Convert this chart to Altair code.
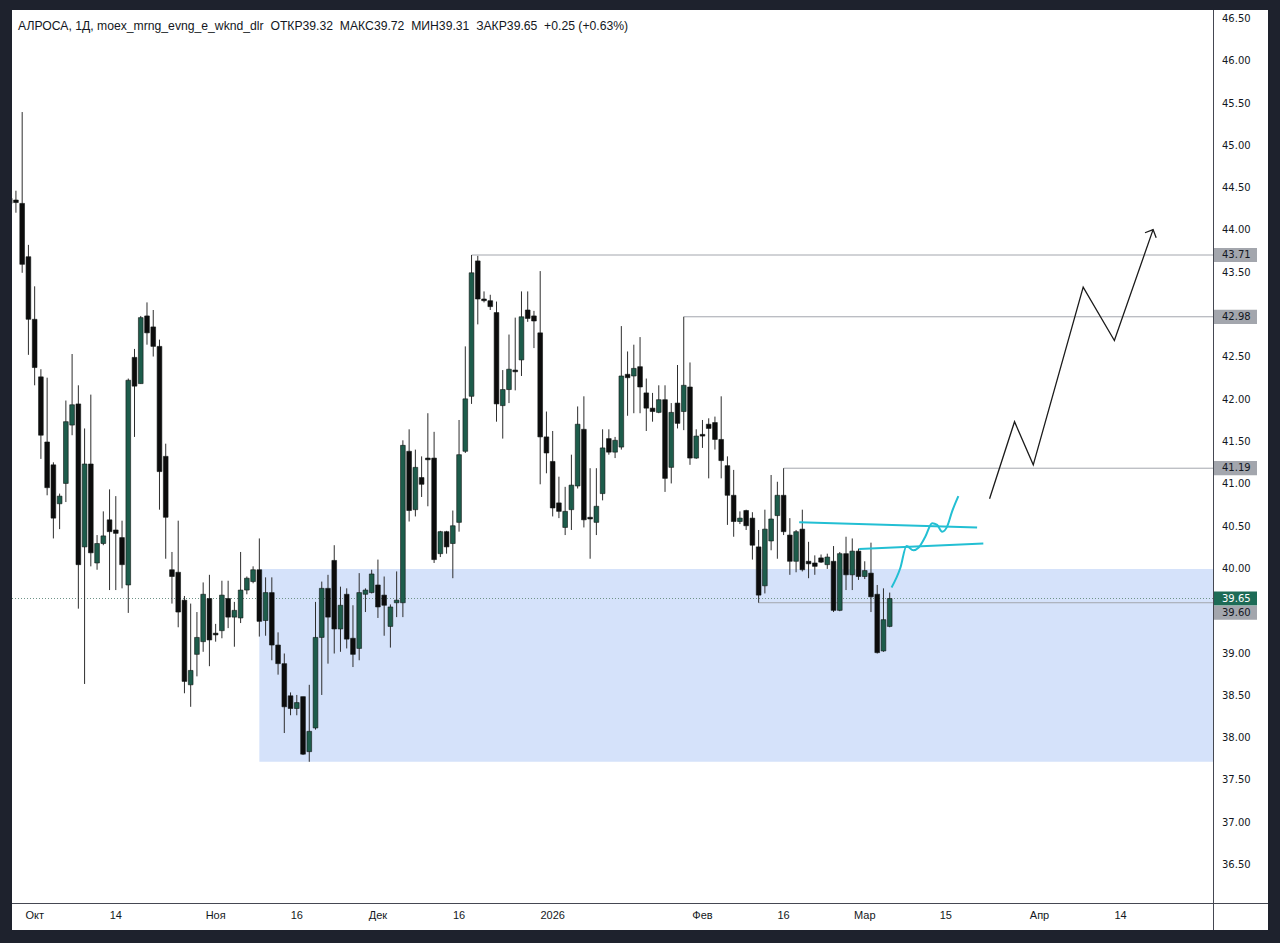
import altair as alt
import pandas as pd

# Daily candles, one per trading session (bar index 0..141)
OPEN = [44.38, 44.36, 44.32, 43.69, 42.95, 42.27, 41.50, 41.23, 40.77, 41.01,
        41.70, 41.95, 40.26, 41.24, 40.07, 40.30, 40.58, 40.46, 40.37, 39.81,
        42.50, 42.19, 42.99, 42.86, 42.63, 41.33, 39.99, 39.96, 39.63, 38.63,
        38.99, 39.14, 39.65, 39.24, 39.27, 39.65, 39.43, 39.42, 39.75, 39.85,
        39.99, 39.39, 39.72, 39.10, 38.88, 38.50, 38.35, 38.49, 37.84, 38.12,
        39.19, 39.77, 40.10, 39.29, 39.70, 39.18, 39.06, 39.70, 39.72, 39.81,
        39.69, 39.32, 39.60, 39.60, 41.39, 40.70, 41.08, 41.31, 41.31, 40.18,
        40.44, 40.30, 40.55, 41.39, 42.04, 43.64, 43.19, 43.17, 43.03, 41.93,
        42.12, 42.35, 42.47, 43.06, 42.99, 42.79, 41.56, 41.27, 40.78, 40.49,
        40.70, 40.98, 41.65, 40.61, 40.55, 40.89, 41.54, 41.38, 41.44, 42.30,
        42.28, 42.39, 42.08, 41.90, 41.85, 42.00, 41.20, 41.96, 41.86, 42.15,
        41.31, 41.59, 41.71, 41.73, 41.53, 41.22, 40.87, 40.56, 40.69, 40.60,
        40.26, 39.80, 40.33, 40.63, 40.87, 40.40, 40.09, 40.47, 40.09, 40.07,
        40.13, 40.05, 40.09, 39.51, 40.18, 39.93, 40.21, 39.91, 39.95, 39.70,
        39.03, 39.32]
HIGH = [44.45, 44.47, 45.40, 43.83, 43.34, 42.36, 42.26, 41.26, 40.89, 41.99,
        42.54, 42.17, 41.66, 42.06, 40.40, 40.68, 40.94, 40.86, 40.57, 42.25,
        42.60, 42.99, 43.15, 43.06, 42.71, 41.48, 40.20, 40.57, 39.68, 39.59,
        39.49, 39.84, 39.93, 39.35, 39.86, 39.86, 39.61, 40.20, 39.91, 40.03,
        40.36, 39.90, 39.90, 39.25, 39.00, 38.54, 38.51, 38.49, 38.63, 39.61,
        39.85, 39.93, 40.28, 39.79, 39.77, 39.57, 39.95, 39.77, 39.99, 40.11,
        39.91, 39.58, 39.97, 41.52, 41.65, 41.41, 41.33, 41.84, 41.62, 40.45,
        40.45, 40.69, 41.76, 42.63, 43.71, 43.70, 43.28, 43.24, 43.16, 42.35,
        42.77, 42.97, 43.28, 43.28, 43.05, 43.52, 41.86, 41.63, 41.09, 40.97,
        41.35, 41.92, 42.04, 41.19, 41.19, 41.65, 41.65, 41.56, 42.87, 42.57,
        42.65, 42.74, 42.25, 42.08, 42.17, 42.17, 41.96, 42.41, 42.98, 42.44,
        41.65, 41.76, 41.78, 41.80, 42.04, 41.33, 41.17, 40.68, 40.70, 40.67,
        40.46, 40.70, 41.11, 41.03, 41.19, 40.60, 40.46, 40.70, 40.32, 40.16,
        40.17, 40.18, 40.27, 40.20, 40.38, 40.36, 40.24, 40.09, 40.31, 39.81,
        39.77, 39.72]
LOW = [44.28, 44.21, 43.50, 42.53, 42.17, 41.30, 40.87, 40.36, 40.47, 40.79,
       41.58, 39.53, 38.64, 40.03, 39.99, 40.28, 39.75, 39.75, 39.77, 39.48,
       41.56, 42.19, 42.65, 42.51, 40.70, 40.12, 39.59, 39.31, 38.53, 38.37,
       38.73, 39.02, 38.85, 39.14, 39.18, 39.30, 39.08, 39.36, 39.70, 39.83,
       39.20, 39.21, 38.92, 38.75, 38.06, 38.27, 38.27, 37.80, 37.72, 38.10,
       38.51, 38.88, 39.00, 39.02, 39.06, 38.84, 38.92, 39.49, 39.71, 39.42,
       39.21, 39.07, 39.43, 39.43, 40.56, 40.62, 40.85, 40.74, 40.07, 40.14,
       40.18, 39.89, 40.44, 41.37, 41.95, 42.89, 43.15, 43.06, 41.74, 41.54,
       41.96, 42.11, 42.28, 42.92, 42.61, 41.00, 41.13, 40.62, 40.60, 40.40,
       40.46, 40.95, 40.49, 40.12, 40.40, 40.81, 41.35, 41.31, 41.41, 41.81,
       41.84, 41.84, 41.63, 41.74, 41.84, 40.91, 41.01, 41.66, 41.64, 41.23,
       41.30, 41.43, 41.07, 41.41, 41.07, 40.52, 40.38, 40.53, 40.46, 40.11,
       39.60, 39.71, 40.22, 40.12, 40.40, 39.93, 39.96, 39.97, 39.89, 39.93,
       40.07, 40.00, 39.49, 39.50, 39.75, 39.75, 39.87, 39.88, 39.49, 39.00,
       39.02, 39.31]
CLOSE = [44.32, 44.33, 43.60, 42.95, 42.38, 41.58, 40.96, 40.60, 40.86, 41.74,
         41.94, 40.05, 41.24, 40.19, 40.30, 40.39, 40.44, 40.42, 40.05, 42.23,
         42.16, 42.97, 42.79, 42.63, 41.15, 40.61, 39.91, 39.49, 38.67, 38.80,
         39.19, 39.70, 39.16, 39.22, 39.69, 39.43, 39.51, 39.75, 39.89, 39.99,
         39.38, 39.72, 39.10, 38.88, 38.37, 38.35, 38.42, 37.81, 38.08, 39.19,
         39.77, 39.43, 39.29, 39.57, 39.17, 38.99, 39.72, 39.75, 39.94, 39.55,
         39.57, 39.55, 39.63, 41.46, 40.69, 41.20, 41.00, 41.29, 40.11, 40.44,
         40.26, 40.51, 41.35, 42.01, 43.50, 43.19, 43.17, 43.10, 41.95, 42.12,
         42.36, 42.33, 42.98, 42.96, 42.93, 41.56, 41.37, 40.72, 40.68, 40.68,
         40.99, 41.71, 40.58, 40.59, 40.74, 41.43, 41.38, 41.52, 42.28, 42.26,
         42.37, 42.15, 41.90, 41.86, 42.00, 41.07, 41.85, 41.72, 42.17, 41.31,
         41.57, 41.57, 41.66, 41.53, 41.28, 40.87, 40.56, 40.60, 40.51, 40.28,
         39.69, 40.47, 40.59, 40.87, 40.44, 40.09, 40.44, 39.99, 40.06, 40.03,
         40.08, 40.14, 39.51, 40.18, 39.93, 40.21, 39.91, 39.98, 39.67, 39.01,
         39.40, 39.65]

# Time axis: bar index of each label and its text
TICK_POS = [4, 17, 33, 46, 59, 72, 87, 111, 124, 137, 150, 165, 178]
TICK_TEXT = ["Окт", "14", "Ноя", "16", "Дек", "16", "2026", "Фев", "16",
             "Мар", "15", "Апр", "14"]

# Price scale labels (43.00 and 39.50 are covered by level tags)
PRICE_TICKS = [36.5, 37.0, 37.5, 38.0, 38.5, 39.0, 40.0, 40.5, 41.0, 41.5,
               42.0, 42.5, 43.5, 44.0, 44.5, 45.0, 45.5, 46.0, 46.5]

# Horizontal levels: starting bar and price
LEVEL_START = [74, 108, 124, 120]
LEVEL_PRICE = [43.71, 42.98, 41.19, 39.60]
LAST_PRICE = 39.65

# Demand zone
ZONE_START, ZONE_LOW, ZONE_HIGH = 40, 37.72, 40.00

# Cyan drawings
CYAN_UPPER_X = [126.5, 155.0]
CYAN_UPPER_Y = [40.55, 40.49]
CYAN_LOWER_X = [136.1, 156.0]
CYAN_LOWER_Y = [40.235, 40.30]
CYAN_PATH_X = [141.3, 142.7, 143.7, 144.8, 145.6, 146.7, 147.8, 148.6, 149.4,
               150.2, 151.0, 152.0]
CYAN_PATH_Y = [39.78, 40.01, 40.27, 40.22, 40.25, 40.38, 40.54, 40.52, 40.44,
               40.50, 40.68, 40.86]

# Projected zig-zag path
ARROW_X = [157.0, 161.0, 164.0, 172.0, 177.0, 183.2]
ARROW_Y = [40.83, 41.74, 41.23, 43.33, 42.70, 44.01]

TITLE = ("АЛРОСА, 1Д, moex_mrng_evng_e_wknd_dlr\u00a0 ОТКР39.32\u00a0 МАКС39.72"
         "\u00a0 МИН39.31\u00a0 ЗАКР39.65\u00a0 +0.25 (+0.63%)")

# ---- layout -------------------------------------------------------------
W, H = 1201, 893
X_MIN, X_MAX = 0.37, 192.8
Y_MIN, Y_MAX = 36.051, 46.606
GREEN = "#1d5c4b"
BLACK = "#0c0c0c"
FRAME = "#1e222d"
SEP = "#454852"
TEXT = "#131722"
TAG_GRAY = "#a3a6ad"
TAG_GREEN = "#1d6b56"

candles = pd.DataFrame({"i": range(len(OPEN)), "open": OPEN, "high": HIGH,
                        "low": LOW, "close": CLOSE})
candles["dir"] = ["up" if c >= o else "down" for o, c in zip(OPEN, CLOSE)]

xs = alt.Scale(domain=[X_MIN, X_MAX], nice=False, zero=False, padding=0)
ys = alt.Scale(domain=[Y_MIN, Y_MAX], nice=False, zero=False, padding=0)


def X(field):
    return alt.X(field, scale=xs, axis=None)


def Y(field):
    return alt.Y(field, scale=ys, axis=None)


one = pd.DataFrame({"k": [0]})
base = alt.Chart(candles)

# white chart panel inside the dark frame (plot area plus both scale strips)
panel = alt.Chart(one).mark_rect(color="white", clip=False).encode(
    x=alt.value(0), x2=alt.value(W + 55), y=alt.value(0), y2=alt.value(H + 27))

zone = alt.Chart(pd.DataFrame({"a": [ZONE_START], "b": [X_MAX],
                               "lo": [ZONE_LOW], "hi": [ZONE_HIGH]})).mark_rect(
    color="#d5e2fa", clip=True).encode(x=X("a:Q"), x2="b:Q", y=Y("lo:Q"), y2="hi:Q")

levels = alt.Chart(pd.DataFrame({"a": LEVEL_START, "p": LEVEL_PRICE,
                                 "b": [X_MAX] * len(LEVEL_START)})).mark_rule(
    color=TAG_GRAY, strokeWidth=1, clip=True).encode(x=X("a:Q"), x2="b:Q", y=Y("p:Q"))

last_line = alt.Chart(pd.DataFrame({"p": [LAST_PRICE]})).mark_rule(
    color="#6f9488", strokeWidth=1, strokeDash=[1, 2]).encode(y=Y("p:Q"))

wicks = base.mark_rule(color="#2e2e2e", strokeWidth=1, clip=True).encode(
    x=X("i:Q"), y=Y("low:Q"), y2="high:Q")

bodies = base.mark_bar(size=4.7, stroke="#101614", strokeWidth=0.6, clip=True).encode(
    x=X("i:Q"), y=Y("open:Q"), y2="close:Q",
    color=alt.Color("dir:N", scale=alt.Scale(domain=["up", "down"], range=[GREEN, BLACK]),
                    legend=None))

cyan_df = pd.DataFrame({
    "x": CYAN_UPPER_X + CYAN_LOWER_X + CYAN_PATH_X,
    "y": CYAN_UPPER_Y + CYAN_LOWER_Y + CYAN_PATH_Y,
    "g": ["u"] * len(CYAN_UPPER_X) + ["l"] * len(CYAN_LOWER_X) + ["p"] * len(CYAN_PATH_X),
    "o": list(range(len(CYAN_UPPER_X))) + list(range(len(CYAN_LOWER_X)))
         + list(range(len(CYAN_PATH_X))),
})
cyan = alt.Chart(cyan_df).mark_line(color="#22bfd3", strokeWidth=2,
                                    interpolate="monotone").encode(
    x=X("x:Q"), y=Y("y:Q"), detail="g:N", order="o:Q")

arrow_df = pd.DataFrame({"x": ARROW_X, "y": ARROW_Y, "o": range(len(ARROW_X))})
arrow = alt.Chart(arrow_df).mark_line(color="#1b1b1b", strokeWidth=1.3).encode(
    x=X("x:Q"), y=Y("y:Q"), order="o:Q")
arrow_head = alt.Chart(arrow_df.tail(1)).mark_point(
    shape="M-1,1L0,0L1,1", size=150, filled=False, color="#1b1b1b", strokeWidth=1.3,
    angle=24, opacity=1).encode(x=X("x:Q"), y=Y("y:Q"))

# scale separators
sep_v = alt.Chart(one).mark_rule(color=SEP, strokeWidth=1).encode(
    x=alt.value(W + 0.5), y=alt.value(0), y2=alt.value(H + 27))
sep_h = alt.Chart(one).mark_rule(color=SEP, strokeWidth=1).encode(
    y=alt.value(H + 0.5), x=alt.value(0), x2=alt.value(W + 55))

# price scale labels
price_labels = alt.Chart(pd.DataFrame({
    "p": PRICE_TICKS, "label": [f"{p:.2f}" for p in PRICE_TICKS]})).mark_text(
    align="left", baseline="middle", font="DejaVu Sans", fontSize=10, color=TEXT).encode(
    x=alt.value(W + 9), y=Y("p:Q"), text="label:N")

# time scale labels
date_labels = alt.Chart(pd.DataFrame({"pos": TICK_POS, "txt": TICK_TEXT})).mark_text(
    align="center", baseline="middle", font="Liberation Sans", fontSize=11,
    color=TEXT).encode(x=X("pos:Q"), y=alt.value(H + 13), text="txt:N")

# level tags on the price scale; the 39.60 tag sits just below the last-price tag
tags_df = pd.DataFrame({
    "p": LEVEL_PRICE + [LAST_PRICE],
    "bg": [TAG_GRAY] * len(LEVEL_PRICE) + [TAG_GREEN],
    "fg": [TEXT] * len(LEVEL_PRICE) + ["#ffffff"],
    "shift": [0, 0, 0, 1, 0],
})
tags_df["label"] = [f"{p:.2f}" for p in tags_df["p"]]


def tag_layers(df, dy):
    box = alt.Chart(df).transform_calculate(
        lo="datum.p - 0.084", hi="datum.p + 0.084").mark_rect(
        clip=False, yOffset=dy, y2Offset=dy).encode(
        x=alt.value(W + 1), x2=alt.value(W + 44), y=Y("lo:Q"), y2="hi:Q",
        color=alt.Color("bg:N", scale=None))
    txt = alt.Chart(df).mark_text(
        align="left", baseline="middle", font="DejaVu Sans", fontSize=10,
        clip=False, yOffset=dy).encode(
        x=alt.value(W + 9), y=Y("p:Q"), text="label:N", color=alt.Color("fg:N", scale=None))
    return [box, txt]


tags = tag_layers(tags_df[tags_df["shift"] == 0], 0) + tag_layers(tags_df[tags_df["shift"] == 1], 10)

title = alt.Chart(pd.DataFrame({"t": [TITLE]})).mark_text(
    align="left", baseline="middle", font="Liberation Sans", fontSize=12.2,
    color=TEXT).encode(x=alt.value(6), y=alt.value(16), text="t:N")

chart = alt.layer(
    panel, zone, levels, last_line, wicks, bodies, cyan, arrow, arrow_head,
    sep_v, sep_h, price_labels, date_labels, *tags, title
).properties(
    width=W, height=H, background=FRAME,
    padding={"left": 12, "top": 10, "right": 67, "bottom": 40},
    autosize=alt.AutoSizeParams(type="none"),
).configure_view(stroke=None, fill="white")

chart.save("out.html", embed_options={"renderer": "svg", "actions": False})
